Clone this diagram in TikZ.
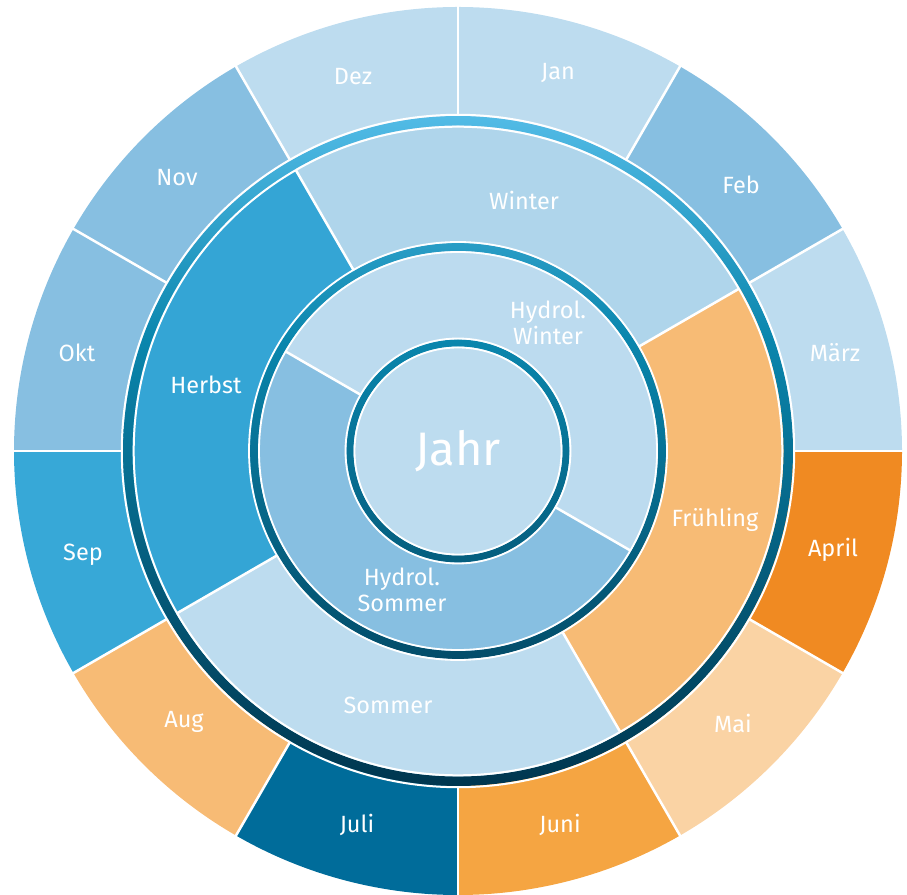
\documentclass[tikz,border=0pt]{standalone}
\usepackage{fontspec}
\setmainfont{Fira Sans}
\definecolor{cLight}{HTML}{BDDCEF}
\definecolor{cMed}{HTML}{87BFE1}
\definecolor{cBlue}{HTML}{37A8D7}
\definecolor{cHerbst}{HTML}{34A5D5}
\definecolor{cWinter}{HTML}{AFD5EB}
\definecolor{cHydW}{HTML}{BCDBEF}
\definecolor{cJuli}{HTML}{006C9A}
\definecolor{cApril}{HTML}{F08A22}
\definecolor{cMai}{HTML}{FAD3A4}
\definecolor{cJuni}{HTML}{F5A542}
\definecolor{cAug}{HTML}{F7BB75}
\definecolor{ringtop}{HTML}{52BBE6}
\definecolor{ringmid}{HTML}{0A86AD}
\definecolor{ringbot}{HTML}{00364F}
\pgfdeclareverticalshading{ringshade}{100bp}{color(0bp)=(ringbot); color(25bp)=(ringbot); color(58.3bp)=(ringmid); color(75bp)=(ringtop); color(100bp)=(ringtop)}
\tikzset{
  sep/.style={white, line width=2.5pt},
  edge/.style={white, line width=2pt},
  lbl/.style={text=white, font=\fontsize{23.5}{26}\selectfont, align=center, inner sep=0pt},
  bigl/.style={text=white, font=\fontsize{47}{50}\selectfont, inner sep=0pt}
}
\newcommand{\annsec}[5]{% color, a1, a2, r1, r2
  \fill[#1] (#2:#4) arc[start angle=#2, end angle=#3, radius=#4] -- (#3:#5) arc[start angle=#3, end angle=#2, radius=#5] -- cycle;}
\begin{document}
\begin{tikzpicture}[x=1pt,y=1pt]
\useasboundingbox (0,0) rectangle (907,894);
\begin{scope}[shift={(458,443)}]
  % months
  \annsec{cLight}{60}{90}{330}{444}   % Jan
  \annsec{cMed}{30}{60}{330}{444}     % Feb
  \annsec{cLight}{0}{30}{330}{444}    % Maerz
  \annsec{cApril}{-30}{0}{330}{444}   % April
  \annsec{cMai}{-60}{-30}{330}{444}   % Mai
  \annsec{cJuni}{-90}{-60}{330}{444}  % Juni
  \annsec{cJuli}{-120}{-90}{330}{444} % Juli
  \annsec{cAug}{-150}{-120}{330}{444} % Aug
  \annsec{cBlue}{-180}{-150}{330}{444}% Sep
  \annsec{cMed}{150}{180}{330}{444}   % Okt
  \annsec{cMed}{120}{150}{330}{444}   % Nov
  \annsec{cLight}{90}{120}{330}{444}  % Dez
  % seasons
  \annsec{cWinter}{30}{120}{200}{330}
  \annsec{cHerbst}{120}{210}{200}{330}
  \annsec{cLight}{210}{300}{200}{330}
  \annsec{cAug}{-60}{30}{200}{330}
  % hydrological
  \annsec{cHydW}{-30}{150}{105}{205}
  \annsec{cMed}{150}{330}{105}{205}
  % Jahr
  \fill[cLight] (0,0) circle[radius=108];
  % separators
  \foreach \a in {0,30,...,330} \draw[sep] (\a:336) -- (\a:446);
  \foreach \a in {30,120,210,300} \draw[sep] (\a:209) -- (\a:324);
  \foreach \a in {150,330} \draw[sep] (\a:112) -- (\a:199);
  % gradient rings
  \shade[shading=ringshade, even odd rule]
    (0,0) circle[radius=335] circle[radius=325.5]
    (0,0) circle[radius=208] circle[radius=200]
    (0,0) circle[radius=111.5] circle[radius=104.5];
  \foreach \r in {336.2,324.3} \draw[edge] (0,0) circle[radius=\r];
  \foreach \r in {209,199} \draw[edge, line width=1.8pt] (0,0) circle[radius=\r];
  \foreach \r in {112.5,103.5} \draw[edge, line width=1.8pt] (0,0) circle[radius=\r];
  % month labels
  \node[lbl] (jan) at (100,378) {Jan};
  \node[lbl] (feb) at (283,266) {Feb};
  \node[lbl] (mar) at (377,98) {März};
  \node[lbl] (apr) at (375,-99) {April};
  \node[lbl] (mai) at (275,-272) {Mai};
  \node[lbl] (jun) at (102,-374) {Juni};
  \node[lbl] (jul) at (-101,-374) {Juli};
  \node[lbl] (aug) at (-274,-271) {Aug};
  \node[lbl] (sep) at (-375,-104) {Sep};
  \node[lbl] (okt) at (-381,98) {Okt};
  \node[lbl] (nov) at (-281,273) {Nov};
  \node[lbl] (dez) at (-105,374) {Dez};
  % season labels
  \node[lbl] (winter) at (66,251) {Winter};
  \node[lbl] (herbst) at (-252,66) {Herbst};
  \node[lbl] (sommer) at (-70,-254) {Sommer};
  \node[lbl] (fruehling) at (257,-69) {Frühling};
  % hydrological labels
  \node[lbl] (hw) at (90,128) {Hydrol.\\Winter};
  \node[lbl] (hs) at (-56,-139) {Hydrol.\\Sommer};
  \node[bigl] (jahr) at (0,0) {Jahr};
\end{scope}
\end{tikzpicture}
\end{document}
